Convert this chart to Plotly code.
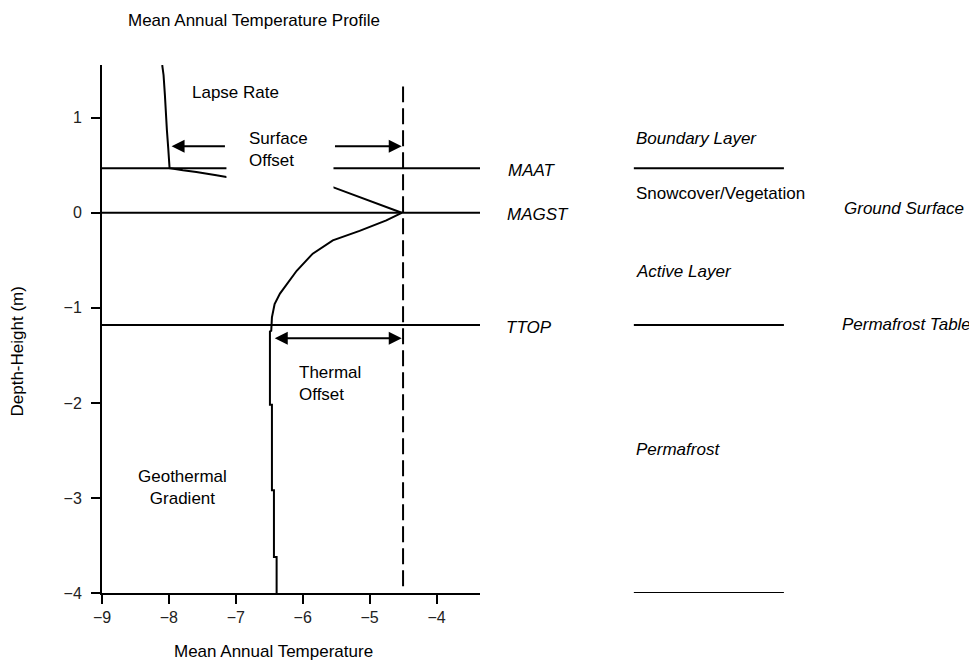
import plotly.graph_objects as go

# ---- data ----
profile_temp = [-8.10, -8.08, -8.06, -8.05, -8.03, -8.01, -7.99,
                -7.79, -7.59, -7.29, -7.14, -6.50, -6.00, -5.55, -5.15, -4.75, -4.52,
                -4.75, -5.15, -5.55, -5.85, -6.09, -6.22, -6.34, -6.42, -6.46, -6.47,
                -6.49, -6.49, -6.46, -6.46, -6.43, -6.43, -6.39, -6.39]
profile_depth = [1.555, 1.45, 1.24, 1.08, 0.87, 0.68, 0.47,
                 0.447, 0.43, 0.394, 0.376, 0.34, 0.31, 0.27, 0.165, 0.067, 0.0,
                 -0.08, -0.19, -0.29, -0.43, -0.61, -0.73, -0.85, -0.96, -1.10, -1.24,
                 -1.25, -2.02, -2.02, -2.92, -2.92, -3.62, -3.62, -4.0]

magst_temp = -4.5
magst_line_depth = [-3.93, 1.33]

maat_level = 0.47
surface_level = 0.0
ttop_level = -1.18
bottom_level = -4.0

x_ticks = [-9, -8, -7, -6, -5, -4]
y_ticks = [-4, -3, -2, -1, 0, 1]
x_range = [-9, -3.35]
y_range = [-4, 1.555]

FONT = "Liberation Sans, Arial, Helvetica, sans-serif"
FS = 17

fig = go.Figure()

fig.add_trace(go.Scatter(x=profile_temp, y=profile_depth, mode="lines",
                         line=dict(color="black", width=2), showlegend=False,
                         hoverinfo="skip"))
fig.add_trace(go.Scatter(x=[magst_temp, magst_temp], y=magst_line_depth, mode="lines",
                         line=dict(color="black", width=2, dash="16px,6px"),
                         showlegend=False, hoverinfo="skip"))

shapes = []
for lvl in [maat_level, surface_level, ttop_level]:
    shapes.append(dict(type="line", xref="paper", yref="y", x0=0, x1=1, y0=lvl, y1=lvl,
                       line=dict(color="black", width=2), layer="below"))
# right-hand boundary lines
for lvl in [maat_level, ttop_level, bottom_level]:
    shapes.append(dict(type="line", xref="paper", yref="y", x0=1.407, x1=1.804, y0=lvl, y1=lvl,
                       line=dict(color="black", width=2), layer="above"))
# white box behind "Surface Offset"
shapes.append(dict(type="rect", xref="x", yref="y", x0=-7.14, x1=-5.54, y0=0.22, y1=1.0,
                   fillcolor="white", line=dict(width=0), layer="above"))

ann = []
def txt(x, y, s, xref="x", yref="y", italic=False, xanchor="left", align="left", yanchor="middle"):
    ann.append(dict(x=x, y=y, xref=xref, yref=yref, text=(f"<i>{s}</i>" if italic else s),
                    showarrow=False, xanchor=xanchor, yanchor=yanchor, align=align,
                    font=dict(family=FONT, size=FS, color="black")))

def arrow(x_head, x_tail, y):
    ann.append(dict(x=x_head, y=y, ax=x_tail, ay=y, xref="x", yref="y", axref="x", ayref="y",
                    text="", showarrow=True, arrowhead=2, arrowsize=1.3, arrowwidth=2,
                    arrowcolor="black", standoff=0, startstandoff=0))

txt(-7.0, 1.27, "Lapse Rate", xanchor="center", align="center")
txt(-6.83, 0.67, "Surface<br>Offset")
txt(-6.08, -1.80, "Thermal<br>Offset")
txt(-7.79, -2.89, "Geothermal<br>Gradient", xanchor="center", align="center")

txt(1.070, 0.445, "MAAT", xref="paper", italic=True)
txt(1.066, -0.02, "MAGST", xref="paper", italic=True)
txt(1.063, -1.21, "TTOP", xref="paper", italic=True)

txt(1.407, 0.78, "Boundary Layer", xref="paper", italic=True)
txt(1.407, 0.20, "Snowcover/Vegetation", xref="paper")
txt(1.957, 0.045, "Ground Surface", xref="paper", italic=True)
txt(1.407, -0.62, "Active Layer", xref="paper", italic=True)
txt(1.952, -1.17, "Permafrost Table", xref="paper", italic=True)
txt(1.407, -2.49, "Permafrost", xref="paper", italic=True)

txt(0.402, 1.085, "Mean Annual Temperature Profile", xref="paper", yref="paper",
    xanchor="center", align="center")
txt(0.455, -0.110, "Mean Annual Temperature", xref="paper", yref="paper",
    xanchor="center", align="center")
ann.append(dict(x=-0.224, y=0.458, xref="paper", yref="paper", text="Depth-Height (m)",
                textangle=-90, showarrow=False, xanchor="center", yanchor="middle",
                font=dict(family=FONT, size=FS, color="black")))

arrow(-7.96, -7.14, 0.70)
arrow(-4.52, -5.54, 0.70)
ann.append(dict(x=-4.52, y=-1.32, ax=-6.44, ay=-1.32, xref="x", yref="y", axref="x", ayref="y",
                text="", showarrow=True, arrowhead=2, startarrowhead=2, arrowside="end+start",
                arrowsize=1.3, startarrowsize=1.3, arrowwidth=2, arrowcolor="black",
                standoff=0, startstandoff=0))

# the page body adds an 8px margin (left/top), so the figure is 8px smaller with left/top margins reduced by 8
fig.update_layout(
    width=969, height=657,
    margin=dict(l=94, r=497, t=57, b=72),
    paper_bgcolor="white", plot_bgcolor="white",
    font=dict(family=FONT, size=FS, color="black"),
    shapes=shapes, annotations=ann, showlegend=False,
    xaxis=dict(range=x_range, tickvals=x_ticks, showgrid=False, zeroline=False,
               showline=True, linecolor="black", linewidth=2, ticks="outside",
               ticklen=9, tickwidth=2, tickcolor="black",
               tickfont=dict(family=FONT, size=16, color="#222")),
    yaxis=dict(range=y_range, tickvals=y_ticks, showgrid=False, zeroline=False,
               showline=True, linecolor="black", linewidth=2, ticks="outside",
               ticklen=9, tickwidth=2, tickcolor="black", ticklabelstandoff=6,
               tickfont=dict(family=FONT, size=16, color="#222")),
)

fig.write_html("out.html")
